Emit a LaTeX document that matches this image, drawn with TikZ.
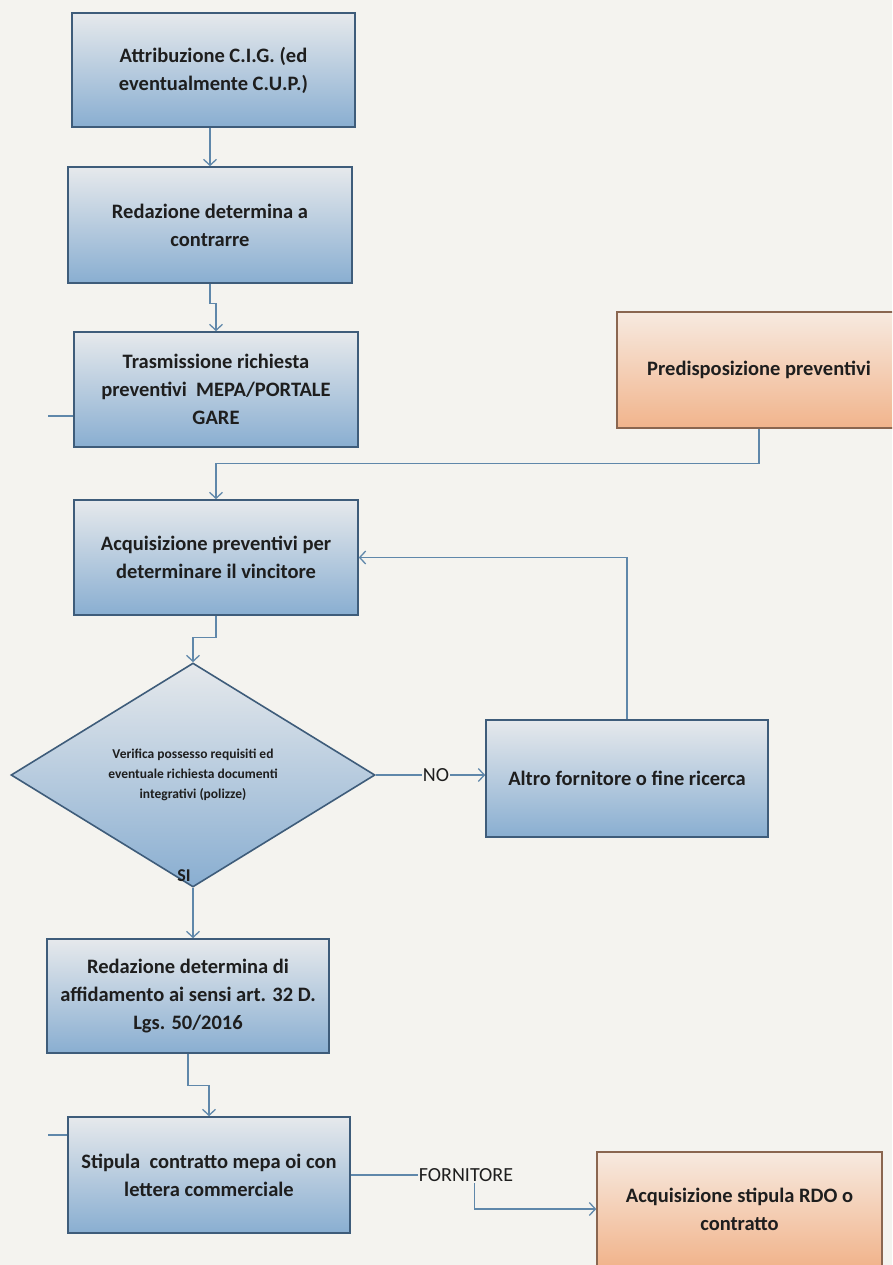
\documentclass[tikz,border=0pt]{standalone}
\usepackage{fontspec}
\setmainfont{Carlito}
\usetikzlibrary{shapes.geometric,arrows.meta,calc}
\definecolor{bg}{HTML}{F4F3EF}
\definecolor{bluetop}{HTML}{E6E9EC}
\definecolor{bluebot}{HTML}{89AED1}
\definecolor{blueline}{HTML}{3E5C7A}
\definecolor{orgtop}{HTML}{F7EAE0}
\definecolor{orgbot}{HTML}{F1B48C}
\definecolor{orgline}{HTML}{8A6650}
\definecolor{conncol}{HTML}{5F87AA}
\definecolor{txt}{HTML}{1E1E1E}
\begin{document}
\begin{tikzpicture}[x=1pt,y=-1pt,
  box/.style={rectangle, line width=1.6pt, inner sep=0pt, align=center, text=txt,
    font=\fontsize{20.5}{28}\selectfont\bfseries},
  bluebox/.style={box, draw=blueline, top color=bluetop, bottom color=bluebot},
  orgbox/.style={box, draw=orgline, top color=orgtop, bottom color=orgbot},
  conn/.style={draw=conncol, line width=1.3pt},
  arr/.style={conn, -{Straight Barb[length=6pt,width=13pt,line width=1.3pt]}},
  lbl/.style={text=txt, inner sep=1pt, fill=bg, font=\fontsize{20}{24}\selectfont},
]
\fill[bg] (0,0) rectangle (892,1265);
\useasboundingbox (0,0) rectangle (892,1265);
\clip (0,0) rectangle (892,1265);

\node[bluebox, minimum width=283pt, minimum height=114pt] (b1) at (213.5,70)
  {Attribuzione C.I.G. (ed\\eventualmente C.U.P.)};
\node[bluebox, minimum width=284pt, minimum height=116pt] (b2) at (210,225)
  {Redazione determina a\\contrarre};
\node[bluebox, minimum width=284pt, minimum height=115pt] (b3) at (216,389.5)
  {Trasmissione richiesta\\preventivi\ \ MEPA/PORTALE\\GARE};
\node[orgbox, minimum width=284pt, minimum height=116pt] (p1) at (759,370)
  {Predisposizione preventivi};
\node[bluebox, minimum width=284pt, minimum height=115pt] (b4) at (216,557.5)
  {Acquisizione preventivi per\\determinare il vincitore};
\node[diamond, draw=blueline, line width=1.6pt, top color=bluetop, bottom color=bluebot,
  minimum width=364pt, minimum height=224pt, inner sep=0pt, align=center, text=txt,
  font=\fontsize{13.5}{20}\selectfont\bfseries] (d) at (193,775)
  {Verifica possesso requisiti ed\\eventuale richiesta documenti\\integrativi (polizze)};
\node[bluebox, minimum width=282pt, minimum height=117pt] (alt) at (627,778.5)
  {Altro fornitore o fine ricerca};
\node[bluebox, minimum width=282pt, minimum height=114pt] (b5) at (188,996)
  {Redazione determina di\\affidamento ai sensi art. 32 D.\\Lgs. 50/2016};
\node[bluebox, minimum width=282pt, minimum height=116pt] (b6) at (209,1175)
  {Stipula\ \ contratto mepa oi con\\lettera commerciale};
\node[orgbox, minimum width=285pt, minimum height=114pt] (p2) at (739.5,1209)
  {Acquisizione stipula RDO o\\contratto};

% connectors
\draw[arr] (b1.south -| b2.north) -- (b2.north);
\draw[arr] (b2.south) -- ++(0,20) -| (b3.north);
\draw[arr] (p1.south) -- ++(0,35) -| (b4.north);
\draw[arr] (alt.north) |- (b4.east);
\draw[arr] (b4.south) -- ++(0,22) -| (d.north);
\draw[arr] (d.east) -- (d.east -| alt.west) node[lbl, pos=0.55] (no) {NO};
\draw[arr] (d.south) -- (d.south |- b5.north);
\node[text=txt, inner sep=0pt, font=\fontsize{18}{20}\selectfont\bfseries] (si) at (184,876) {SI};
\draw[arr] (b5.south) -- ++(0,32) -| (b6.north);
\draw[arr] (b6.east) -- ++(124,0) |- (p2.west);
\node[lbl] (forn) at (466,1175) {FORNITORE};

% short stray stubs
\coordinate (s1) at (48,416);
\draw[conn] (s1) -- (s1 -| b3.west);
\coordinate (s2) at (48,1135);
\draw[conn] (s2) -- (s2 -| b6.west);
\end{tikzpicture}
\end{document}
